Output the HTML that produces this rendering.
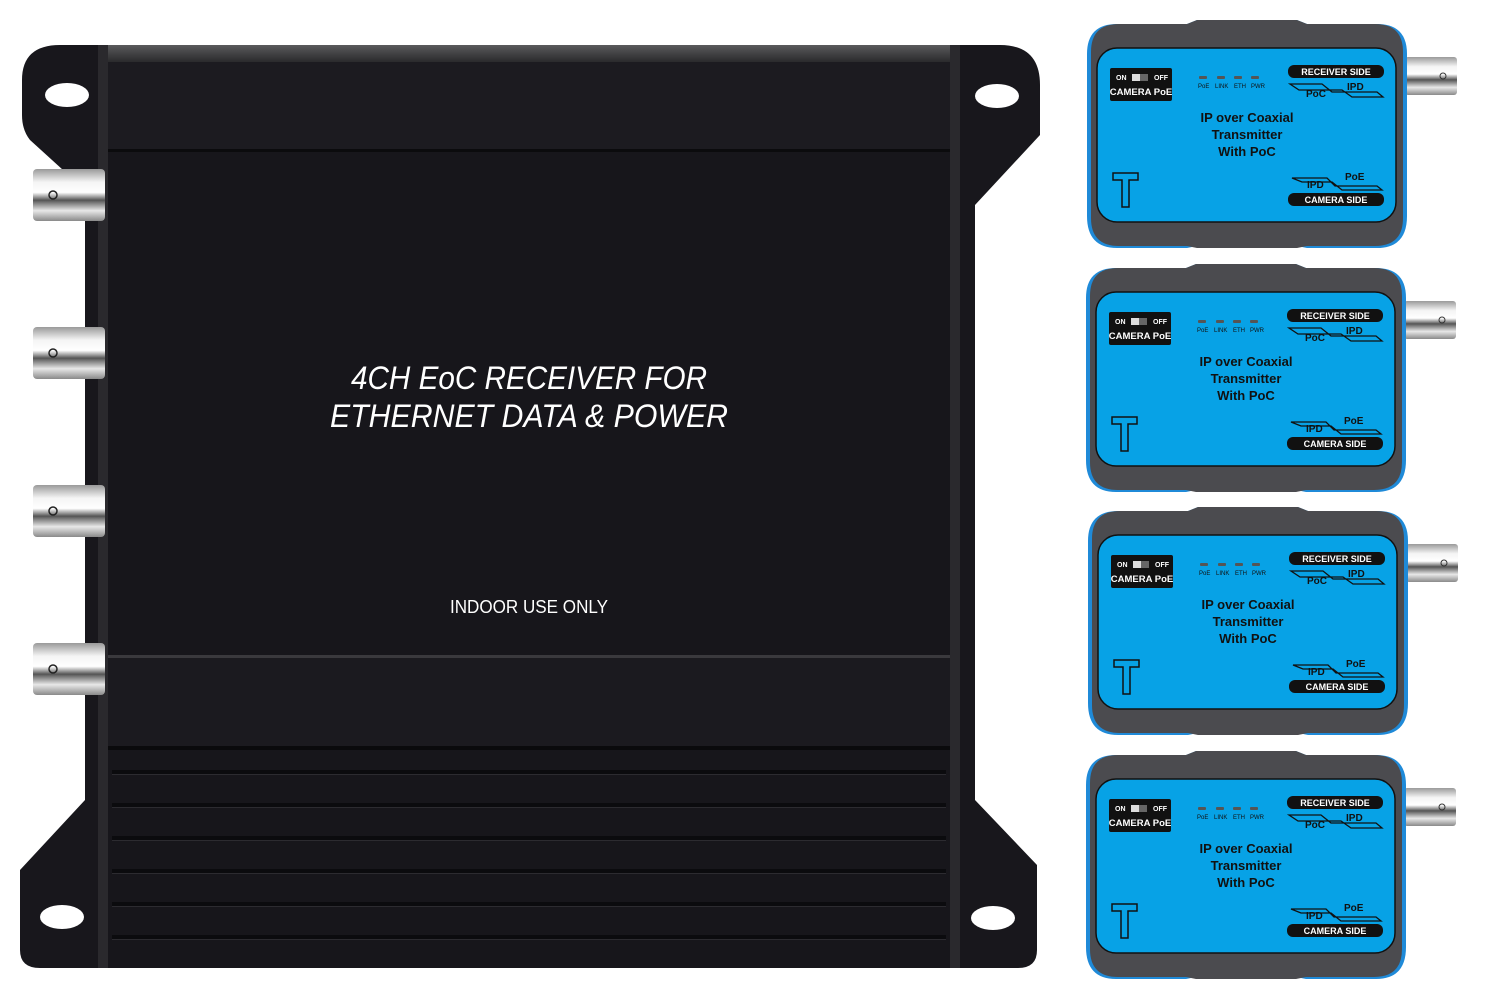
<!DOCTYPE html>
<html><head><meta charset="utf-8"><style>
html,body{margin:0;padding:0;background:#fff;}
svg{display:block;}
text{font-family:"Liberation Sans",sans-serif;}
</style></head><body>
<svg width="1500" height="1000" viewBox="0 0 1500 1000" xmlns="http://www.w3.org/2000/svg">
<defs>
<linearGradient id="bnc" x1="0" y1="0" x2="0" y2="1">
<stop offset="0" stop-color="#9a9a9a"/><stop offset="0.25" stop-color="#f4f4f4"/><stop offset="0.45" stop-color="#ffffff"/><stop offset="0.6" stop-color="#555"/><stop offset="0.8" stop-color="#e8e8e8"/><stop offset="1" stop-color="#8a8a8a"/>
</linearGradient>
<linearGradient id="topg" x1="0" y1="0" x2="0" y2="1"><stop offset="0" stop-color="#5a5a5c"/><stop offset="1" stop-color="#2a2a2c"/></linearGradient>
</defs>
<path d="M60,45 L1000,45 Q1040,45 1040,85 L1040,135 L975,205 L975,800 L1037,865 L1037,950 Q1037,968 1018,968 L40,968 Q20,968 20,950 L20,870 L85,800 L85,190 L30,140 Q22,130 22,115 L22,80 Q22,45 60,45 Z" fill="#18171c"/>
<ellipse cx="67" cy="95" rx="22" ry="12" fill="#fff"/>
<ellipse cx="997" cy="96" rx="22" ry="12" fill="#fff"/>
<ellipse cx="62" cy="917" rx="22" ry="12" fill="#fff"/>
<ellipse cx="993" cy="918" rx="22" ry="12" fill="#fff"/>
<rect x="98" y="45" width="10" height="923" fill="#2a292d"/>
<rect x="950" y="45" width="10" height="923" fill="#2a292d"/>
<rect x="108" y="45" width="842" height="923" fill="#17161b"/>
<rect x="108" y="45" width="842" height="17" fill="url(#topg)"/>
<rect x="108" y="62" width="842" height="88" fill="#1c1b20"/>
<rect x="108" y="149" width="842" height="3" fill="#0b0b0d"/>
<rect x="108" y="655" width="842" height="3" fill="#3a393d"/>
<rect x="108" y="658" width="842" height="88" fill="#1b1a1f"/>
<rect x="108" y="746" width="842" height="4" fill="#0a0a0c"/>
<g fill="#0b0b0e">
<rect x="112" y="770" width="834" height="4"/><rect x="112" y="803" width="834" height="4"/><rect x="112" y="836" width="834" height="4"/><rect x="112" y="869" width="834" height="4"/><rect x="112" y="902" width="834" height="4"/><rect x="112" y="935" width="834" height="4"/>
</g>
<g fill="#2c2b30">
<rect x="112" y="774" width="834" height="1"/><rect x="112" y="807" width="834" height="1"/><rect x="112" y="840" width="834" height="1"/><rect x="112" y="873" width="834" height="1"/><rect x="112" y="906" width="834" height="1"/><rect x="112" y="939" width="834" height="1"/>
</g>
<text x="351" y="389" font-size="32" font-style="italic" fill="#fff" textLength="356" lengthAdjust="spacingAndGlyphs">4CH EoC RECEIVER FOR</text>
<text x="330" y="427" font-size="32" font-style="italic" fill="#fff" textLength="398" lengthAdjust="spacingAndGlyphs">ETHERNET DATA &amp; POWER</text>
<text x="450" y="613" font-size="18" fill="#fff" textLength="158" lengthAdjust="spacingAndGlyphs">INDOOR USE ONLY</text>
<g>
<rect x="33" y="169" width="72" height="52" rx="4" fill="url(#bnc)"/><circle cx="53" cy="195" r="4" fill="none" stroke="#222" stroke-width="1.5"/>
<rect x="33" y="327" width="72" height="52" rx="4" fill="url(#bnc)"/><circle cx="53" cy="353" r="4" fill="none" stroke="#222" stroke-width="1.5"/>
<rect x="33" y="485" width="72" height="52" rx="4" fill="url(#bnc)"/><circle cx="53" cy="511" r="4" fill="none" stroke="#222" stroke-width="1.5"/>
<rect x="33" y="643" width="72" height="52" rx="4" fill="url(#bnc)"/><circle cx="53" cy="669" r="4" fill="none" stroke="#222" stroke-width="1.5"/>
</g>

<g id="t1" transform="translate(1087,20)">
<rect x="318" y="37" width="52" height="38" rx="3" fill="url(#bnc)"/><circle cx="356" cy="56" r="3" fill="none" stroke="#333"/>
<path d="M30,4 L100,4 L110,0 L210,0 L220,4 L290,4 Q320,4 320,34 L320,196 Q320,228 290,228 L220,228 L210,226 L110,226 L100,228 L30,228 Q0,228 0,196 L0,34 Q0,4 30,4 Z" fill="#1f8ad8"/>
<path d="M32,4 L100,4 L110,0 L210,0 L220,4 L288,4 Q316,4 316,32 L316,198 Q316,226 288,226 L220,226 L210,228 L110,228 L100,226 L32,226 Q4,226 4,198 L4,32 Q4,4 32,4 Z" fill="#4b4b4f"/>
<rect x="10" y="28" width="299" height="174" rx="20" fill="#07a2e6" stroke="#111" stroke-width="1.5"/>
<rect x="23" y="48" width="62" height="33" rx="2" fill="#111"/>
<text x="29" y="60" font-size="7" font-weight="bold" fill="#fff">ON</text>
<rect x="45" y="54" width="16" height="7" fill="#ddd"/><rect x="53" y="54" width="8" height="7" fill="#666"/>
<text x="67" y="60" font-size="7" font-weight="bold" fill="#fff">OFF</text>
<text x="54" y="75" font-size="9.5" font-weight="bold" fill="#fff" text-anchor="middle">CAMERA PoE</text>
<g fill="#555"><rect x="112" y="56" width="8" height="3" rx="1"/><rect x="130" y="56" width="8" height="3" rx="1"/><rect x="147" y="56" width="8" height="3" rx="1"/><rect x="164" y="56" width="8" height="3" rx="1"/></g>
<text x="111" y="68" font-size="6" fill="#111">PoE</text><text x="128" y="68" font-size="6" fill="#111">LINK</text><text x="147" y="68" font-size="6" fill="#111">ETH</text><text x="164" y="68" font-size="6" fill="#111">PWR</text>
<rect x="201" y="45" width="96" height="13" rx="6" fill="#111"/>
<text x="249" y="55" font-size="9" font-weight="bold" fill="#fff" text-anchor="middle">RECEIVER SIDE</text>
<path d="M203,64 L235,64 L245,72 L290,72 L296,77 L265,77 L255,70 L212,70 Z" fill="none" stroke="#111" stroke-width="1.3"/>
<text x="219" y="77" font-size="10" font-weight="bold" fill="#111">PoC</text><text x="260" y="70" font-size="10" font-weight="bold" fill="#111">IPD</text>
<text x="160" y="102" font-size="13" font-weight="bold" fill="#111" text-anchor="middle">IP over Coaxial</text>
<text x="160" y="119" font-size="13" font-weight="bold" fill="#111" text-anchor="middle">Transmitter</text>
<text x="160" y="136" font-size="13" font-weight="bold" fill="#111" text-anchor="middle">With PoC</text>
<path d="M26,153 L51,153 L51,160 L42,160 L42,187 L35,187 L35,160 L26,160 Z" fill="none" stroke="#111" stroke-width="1.5"/>
<path d="M205,158 L240,158 L248,166 L290,166 L295,170 L255,170 L245,162 L215,162 Z" fill="none" stroke="#111" stroke-width="1.3"/>
<text x="220" y="168" font-size="10" font-weight="bold" fill="#111">IPD</text><text x="258" y="160" font-size="10" font-weight="bold" fill="#111">PoE</text>
<rect x="201" y="173" width="96" height="13" rx="6" fill="#111"/>
<text x="249" y="183" font-size="9" font-weight="bold" fill="#fff" text-anchor="middle">CAMERA SIDE</text>
</g>
<use href="#t1" transform="translate(-1,244)"/>
<use href="#t1" transform="translate(1,487)"/>
<use href="#t1" transform="translate(-1,731)"/>
</svg>
</body></html>
